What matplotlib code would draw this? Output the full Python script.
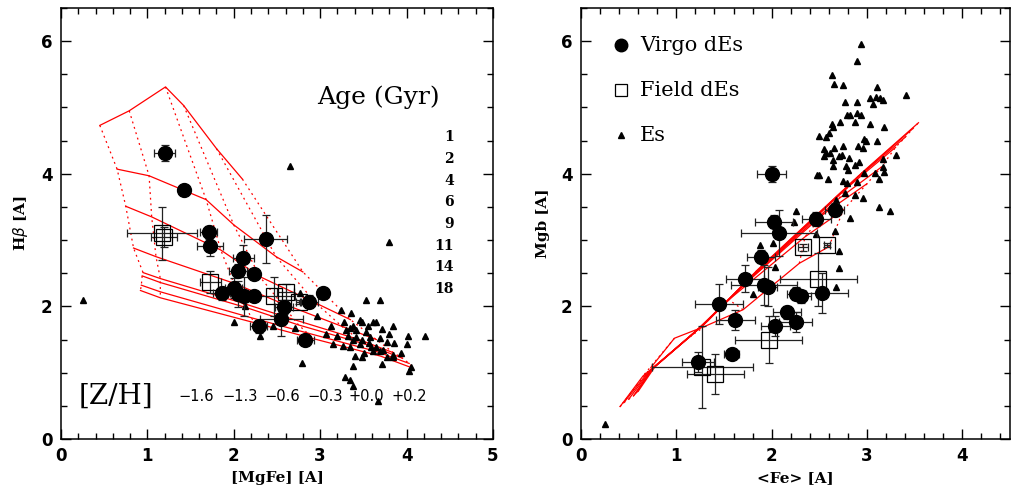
import matplotlib
matplotlib.use("Agg")
import matplotlib.pyplot as plt
import numpy as np
from matplotlib.ticker import MultipleLocator

# ---------------- left panel: Hbeta vs [MgFe] ----------------
virgo_mgfe = [1.20, 1.42, 1.71, 1.73, 2.37, 2.11, 2.05, 2.24, 1.86, 2.00,
              2.05, 2.12, 2.24, 2.58, 2.55, 2.29, 2.83, 3.03, 2.87]
virgo_hb = [4.31, 3.76, 3.12, 2.91, 3.02, 2.73, 2.54, 2.49, 2.20, 2.28,
            2.19, 2.15, 2.16, 1.99, 1.81, 1.70, 1.50, 2.20, 2.07]
virgo_mgfe_err = [0.12, 0.03, 0.10, 0.15, 0.25, 0.12, 0.10, 0.05, 0.10, 0.10,
                  0.15, 0.10, 0.05, 0.10, 0.25, 0.10, 0.10, 0.05, 0.10]
virgo_hb_err = [0.12, 0.03, 0.10, 0.15, 0.36, 0.20, 0.10, 0.05, 0.10, 0.15,
                0.20, 0.30, 0.05, 0.10, 0.25, 0.10, 0.05, 0.05, 0.10]

field_mgfe = [1.17, 1.19, 1.73, 2.46, 2.60, 2.75]
field_hb = [3.10, 3.05, 2.37, 2.15, 2.22, 2.07]
field_mgfe_err = [0.40, 0.15, 0.12, 0.25, 0.10, 0.03]
field_hb_err = [0.40, 0.15, 0.17, 0.30, 0.12, 0.03]

es_mgfe = [3.80, 3.53, 3.69, 2.77, 3.24, 3.36, 2.96, 2.00, 2.13, 2.30, 2.71, 2.45,
           3.46, 3.49, 3.61, 3.65, 3.84, 3.34, 3.30, 3.42, 3.53, 3.71, 3.07, 3.19,
           3.32, 3.42, 3.58, 3.69, 3.80, 4.02, 4.21, 3.15, 3.26, 3.34, 3.46, 3.57,
           3.65, 3.77, 3.86, 4.00, 3.51, 3.61, 3.73, 3.84, 3.94, 3.40, 3.48, 3.38,
           3.71, 3.84, 2.79, 4.05, 4.03, 3.29, 3.34, 3.38, 3.49, 3.38, 3.13, 3.28,
           3.38, 3.55, 3.59, 3.69, 3.77, 0.25, 2.65, 3.67]
es_hb = [2.97, 2.09, 2.09, 2.20, 1.94, 1.90, 1.86, 1.76, 2.01, 1.55, 1.67, 1.70,
         1.79, 1.77, 1.77, 1.76, 1.71, 1.67, 1.64, 1.64, 1.62, 1.66, 1.59, 1.56,
         1.55, 1.54, 1.54, 1.52, 1.58, 1.56, 1.55, 1.44, 1.41, 1.39, 1.44, 1.45,
         1.39, 1.47, 1.45, 1.44, 1.30, 1.32, 1.34, 1.27, 1.30, 1.25, 1.23, 1.10,
         1.13, 1.23, 1.15, 1.09, 1.03, 0.93, 0.89, 0.80, 1.50, 1.50, 1.70, 1.77,
         1.71, 1.71, 1.39, 1.32, 1.24, 2.10, 4.11, 0.57]

ages = ["1", "2", "4", "6", "9", "11", "14", "18"]
metals = ["\u22121.6", "\u22121.3", "\u22120.6", "\u22120.3", "+0.0", "+0.2"]

# model grid nodes, one row per age, one column per [Z/H]
grid_mgfe = [
    [0.45, 0.79, 1.21, 1.42, 1.80, 2.10],
    [0.65, 1.02, 1.68, 2.00, 2.49, 2.80],
    [0.75, 1.05, 1.85, 2.30, 2.95, 3.35],
    [0.84, 1.10, 2.00, 2.55, 3.25, 3.65],
    [0.95, 1.15, 2.10, 2.70, 3.45, 3.85],
    [0.94, 1.15, 2.15, 2.75, 3.55, 3.95],
    [0.93, 1.15, 2.20, 2.85, 3.65, 4.03],
    [0.92, 1.15, 2.25, 2.90, 3.70, 4.07],
]
grid_hb = [
    [4.73, 4.95, 5.31, 5.03, 4.38, 3.92],
    [4.07, 3.97, 3.61, 3.23, 2.75, 2.52],
    [3.51, 3.35, 2.85, 2.45, 2.05, 1.80],
    [2.88, 2.75, 2.35, 2.05, 1.70, 1.50],
    [2.51, 2.42, 2.05, 1.80, 1.50, 1.30],
    [2.46, 2.36, 1.98, 1.72, 1.42, 1.22],
    [2.32, 2.22, 1.83, 1.60, 1.32, 1.14],
    [2.24, 2.13, 1.75, 1.52, 1.25, 1.07],
]

# ---------------- right panel: Mgb vs <Fe> ----------------
virgo_fe = [2.00, 2.02, 2.08, 1.89, 1.72, 1.92, 1.96, 2.47, 2.66, 1.45,
            1.62, 2.26, 2.31, 2.53, 2.16, 2.25, 2.04, 1.58, 1.23]
virgo_mgb = [3.99, 3.28, 3.11, 2.75, 2.42, 2.32, 2.30, 3.32, 3.46, 2.04,
             1.79, 2.19, 2.15, 2.20, 1.91, 1.76, 1.70, 1.28, 1.16]
virgo_fe_err = [0.15, 0.20, 0.40, 0.15, 0.20, 0.35, 0.10, 0.15, 0.10, 0.25,
                0.20, 0.10, 0.10, 0.27, 0.15, 0.17, 0.15, 0.08, 0.17]
virgo_mgb_err = [0.12, 0.10, 0.35, 0.10, 0.20, 0.30, 0.30, 0.10, 0.10, 0.30,
                 0.15, 0.10, 0.10, 0.30, 0.10, 0.15, 0.15, 0.08, 0.15]

field_fe = [1.27, 1.41, 2.33, 2.58, 2.49, 1.97]
field_mgb = [1.09, 0.98, 2.89, 2.92, 2.41, 1.50]
field_fe_err = [0.53, 0.30, 0.05, 0.03, 0.40, 0.35]
field_mgb_err = [0.62, 0.30, 0.05, 0.03, 0.40, 0.35]

es_fe = [2.94, 2.90, 2.63, 2.65, 2.75, 3.11, 3.41, 2.77, 2.90, 3.03, 3.09, 3.14,
         3.17, 3.06, 2.79, 2.82, 2.89, 2.94, 2.63, 2.72, 2.64, 2.87, 3.03, 3.18,
         2.50, 2.57, 2.60, 2.97, 2.99, 3.10, 2.75, 2.65, 2.91, 2.96, 2.55, 2.57,
         2.61, 2.71, 2.74, 2.81, 2.92, 2.64, 2.55, 3.17, 3.30, 2.64, 2.78, 2.80,
         2.87, 2.50, 2.59, 2.75, 2.79, 2.89, 2.97, 3.08, 3.18, 3.13, 3.17, 2.77,
         2.87, 2.96, 3.13, 3.24, 2.25, 2.23, 2.82, 2.68, 2.01, 1.88, 2.04, 1.80,
         2.71, 2.71, 2.67, 2.66, 2.47, 2.48, 0.25]
es_mgb = [5.95, 5.70, 5.49, 5.35, 5.34, 5.31, 5.19, 5.08, 5.08, 5.14, 5.16, 5.14,
          5.11, 5.06, 4.88, 4.88, 4.91, 4.88, 4.75, 4.78, 4.70, 4.78, 4.75, 4.70,
          4.57, 4.55, 4.62, 4.52, 4.50, 4.50, 4.42, 4.39, 4.42, 4.39, 4.37, 4.32,
          4.31, 4.27, 4.29, 4.24, 4.18, 4.21, 4.27, 4.22, 4.29, 4.11, 4.11, 4.06,
          4.13, 3.98, 3.92, 3.89, 3.86, 3.88, 4.01, 4.01, 4.03, 3.92, 4.10, 3.71,
          3.68, 3.63, 3.50, 3.44, 3.44, 3.28, 3.34, 3.60, 2.96, 2.93, 2.60, 2.19,
          2.83, 2.58, 2.30, 3.13, 3.09, 3.98, 0.23]

grid_fe = [
    [0.74, 0.98, 1.30, 1.70, 2.29, 2.60],
    [0.41, 0.65, 1.15, 1.55, 2.35, 2.75],
    [0.45, 0.70, 1.20, 1.65, 2.55, 3.00],
    [0.50, 0.72, 1.25, 1.72, 2.70, 3.15],
    [0.55, 0.74, 1.28, 1.78, 2.80, 3.30],
    [0.57, 0.75, 1.30, 1.80, 2.85, 3.40],
    [0.58, 0.76, 1.32, 1.82, 2.90, 3.48],
    [0.60, 0.78, 1.34, 1.85, 2.95, 3.54],
]
grid_mgb = [
    [1.09, 1.52, 1.70, 1.95, 2.65, 2.90],
    [0.49, 0.95, 1.55, 2.10, 3.05, 3.45],
    [0.55, 1.00, 1.62, 2.25, 3.40, 3.85],
    [0.60, 1.02, 1.68, 2.35, 3.62, 4.10],
    [0.65, 1.05, 1.72, 2.42, 3.80, 4.40],
    [0.68, 1.06, 1.74, 2.46, 3.88, 4.55],
    [0.70, 1.08, 1.77, 2.50, 3.95, 4.68],
    [0.72, 1.10, 1.80, 2.55, 4.02, 4.77],
]

label_font = dict(family="DejaVu Serif", fontsize=11, fontweight="bold")
serif = "DejaVu Serif"


def draw_grid(ax, gx, gy):
    gx = np.array(gx)
    gy = np.array(gy)
    for i in range(gx.shape[0]):
        ax.plot(gx[i], gy[i], color="red", lw=0.9, zorder=1)
    for j in range(gx.shape[1]):
        ax.plot(gx[:, j], gy[:, j], color="red", lw=0.9, ls=(0, (1.5, 3)), zorder=1)


def draw_points(ax, vx, vy, vxe, vye, fx, fy, fxe, fye, ex, ey):
    ax.plot(ex, ey, "^", color="black", ms=3.8, mec="black", zorder=2, ls="none")
    ax.errorbar(fx, fy, xerr=fxe, yerr=fye, fmt="s", ms=11, mfc="none", mec="black",
                mew=0.9, ecolor="#222222", elinewidth=0.9, capsize=3, capthick=0.9, zorder=3)
    ax.errorbar(vx, vy, xerr=vxe, yerr=vye, fmt="o", ms=10, color="black",
                ecolor="#222222", elinewidth=0.9, capsize=3, capthick=0.9, zorder=4)


def style_axes(ax, xmax):
    ax.set_xlim(0, xmax)
    ax.set_ylim(0, 6.5)
    ax.xaxis.set_major_locator(MultipleLocator(1))
    ax.xaxis.set_minor_locator(MultipleLocator(0.2))
    ax.yaxis.set_major_locator(MultipleLocator(2))
    ax.yaxis.set_minor_locator(MultipleLocator(0.5))
    ax.tick_params(which="both", direction="in", top=True, right=True, width=1.0)
    ax.tick_params(which="major", length=7, labelsize=12, pad=6)
    ax.tick_params(which="minor", length=4)
    for lab in ax.get_xticklabels() + ax.get_yticklabels():
        lab.set_fontweight("bold")
    for s in ax.spines.values():
        s.set_linewidth(1.1)


fig = plt.figure(figsize=(10.11, 4.92), dpi=100)
ax1 = fig.add_axes([0.0603, 0.1077, 0.4273, 0.876])
ax2 = fig.add_axes([0.5747, 0.1077, 0.4243, 0.876])

# left
draw_grid(ax1, grid_mgfe, grid_hb)
draw_points(ax1, virgo_mgfe, virgo_hb, virgo_mgfe_err, virgo_hb_err,
            field_mgfe, field_hb, field_mgfe_err, field_hb_err, es_mgfe, es_hb)
style_axes(ax1, 5)
ax1.set_xlabel("[MgFe] [A]", labelpad=4, **label_font)
ax1.set_ylabel("H$\\beta$ [A]", labelpad=8, **label_font)
ax1.text(3.68, 5.15, "Age (Gyr)", family=serif, fontsize=18, ha="center", va="center")
for k, a in enumerate(ages):
    ax1.text(4.55, 4.55 - 0.327 * k, a, family=serif, fontsize=10, fontweight="bold",
             ha="right", va="center")
ax1.text(0.2, 0.64, "[Z/H]", family=serif, fontsize=20, ha="left", va="center")
metal_x = [1.57, 2.07, 2.56, 3.06, 3.53, 4.03]
for mx, m in zip(metal_x, metals):
    ax1.text(mx, 0.64, m, family="DejaVu Sans", fontsize=10.5, ha="center", va="center")

# right
draw_grid(ax2, grid_fe, grid_mgb)
draw_points(ax2, virgo_fe, virgo_mgb, virgo_fe_err, virgo_mgb_err,
            field_fe, field_mgb, field_fe_err, field_mgb_err, es_fe, es_mgb)
style_axes(ax2, 4.5)
ax2.set_xlabel("<Fe> [A]", labelpad=4, **label_font)
ax2.set_ylabel("Mgb [A]", labelpad=8, **label_font)

legend_marks = ["o", "s", "^"]
legend_ms = [9, 9, 4]
legend_names = ["Virgo dEs", "Field dEs", "Es"]
for k, (mk, ms, nm) in enumerate(zip(legend_marks, legend_ms, legend_names)):
    yy = 5.94 - 0.68 * k
    if mk == "s":
        ax2.plot([0.42], [yy], mk, ms=ms, mfc="none", mec="black", mew=0.9)
    else:
        ax2.plot([0.42], [yy], mk, ms=ms, color="black")
    ax2.text(0.62, yy, nm, family=serif, fontsize=15, ha="left", va="center")

fig.savefig("out.png", dpi=100)
